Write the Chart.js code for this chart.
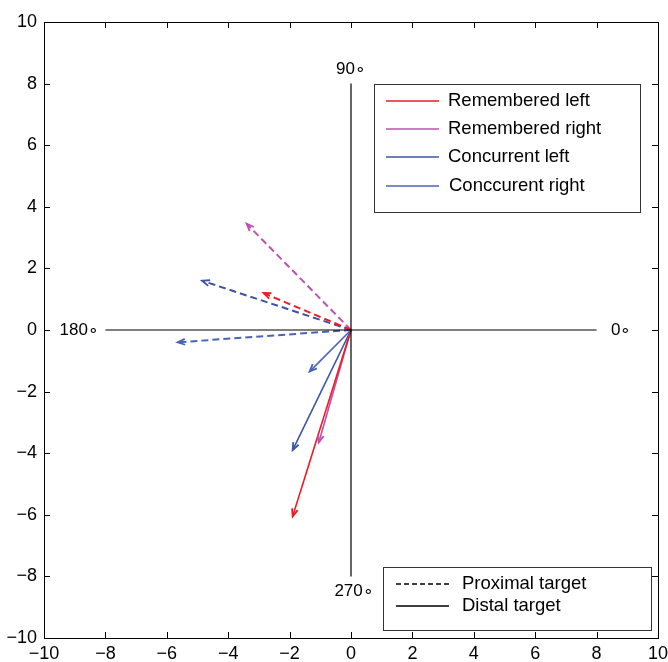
<!DOCTYPE html>
<html>
<head>
<meta charset="utf-8">
<script src="https://cdn.jsdelivr.net/npm/chart.js@4"></script>
<style>
  html, body { margin: 0; padding: 0; background: #fff; }
  #wrap { width: 668px; height: 662px; }
</style>
</head>
<body>
<div id="wrap"><canvas id="quiverChart" width="668" height="662"></canvas></div>
<script>
// series names and colours
const seriesNames = ['Remembered left', 'Remembered right', 'Concurrent left', 'Conccurent right'];
const seriesColors = ['#ed1c24', '#c050b0', '#3b54a4', '#4a64b4'];

// mean response vectors (tip coordinates, tail at origin)
const proximalX = [-2.85, -3.4, -4.85, -5.65];
const proximalY = [1.2, 3.45, 1.6, -0.4];
const distalX = [-1.9, -1.05, -1.9, -1.35];
const distalY = [-6.05, -3.65, -3.9, -1.35];

// reference cross and its angle labels
const crossSpan = [-8, 8];
const angleLabels = ['0∘', '90∘', '180∘', '270∘'];
const angleLabelX = [8.8, 0, -8.85, 0.1];
const angleLabelY = [0, 8.45, 0, -8.5];

const axisTicks = [-10, -8, -6, -4, -2, 0, 2, 4, 6, 8, 10];
const targetNames = ['Proximal target', 'Distal target'];

var datasets = [];
// cross lines
datasets.push({
    data: [{ x: crossSpan[0], y: 0 }, { x: crossSpan[1], y: 0 }],
    borderColor: '#000', borderWidth: 1.2, arrow: false,
});
datasets.push({
    data: [{ x: 0, y: crossSpan[0] }, { x: 0, y: crossSpan[1] }],
    borderColor: '#000', borderWidth: 1.2, arrow: false,
});
for (let i = 0; i < seriesNames.length; i++) {
    datasets.push({
        label: seriesNames[i] + ' proximal',
        data: [{ x: 0, y: 0 }, { x: proximalX[i], y: proximalY[i] }],
        borderColor: seriesColors[i], borderWidth: 2, borderDash: [7, 4], arrow: true,
    });
}
for (let i = 0; i < seriesNames.length; i++) {
    datasets.push({
        label: seriesNames[i] + ' distal',
        data: [{ x: 0, y: 0 }, { x: distalX[i], y: distalY[i] }],
        borderColor: seriesColors[i], borderWidth: 1.6, arrow: true,
    });
}
datasets.forEach((d) => {
    d.showLine = true;
    d.pointRadius = 0;
    d.fill = false;
});

function minusLabel(v) {
    return v < 0 ? '\u2212' + Math.abs(v) : String(v);
}

// box, inward ticks, arrow heads, angle labels and the two legends
const quiverExtras = {
    id: 'quiverExtras',
    afterDatasetsDraw(chart) {
        const ctx = chart.ctx;
        const xs = chart.scales.x;
        const ys = chart.scales.y;
        const a = chart.chartArea;

        // arrow heads
        chart.data.datasets.forEach((d) => {
            if (!d.arrow) return;
            const p0 = d.data[0], p1 = d.data[1];
            const x0 = xs.getPixelForValue(p0.x), y0 = ys.getPixelForValue(p0.y);
            const x1 = xs.getPixelForValue(p1.x), y1 = ys.getPixelForValue(p1.y);
            const ang = Math.atan2(y1 - y0, x1 - x0);
            const len = 8, spread = 0.38;
            ctx.save();
            ctx.strokeStyle = d.borderColor;
            ctx.lineWidth = 1.8;
            ctx.setLineDash([]);
            ctx.beginPath();
            ctx.moveTo(x1 - len * Math.cos(ang - spread), y1 - len * Math.sin(ang - spread));
            ctx.lineTo(x1, y1);
            ctx.lineTo(x1 - len * Math.cos(ang + spread), y1 - len * Math.sin(ang + spread));
            ctx.stroke();
            ctx.restore();
        });

        ctx.save();
        // angle labels
        ctx.fillStyle = '#000';
        ctx.font = '17px "Liberation Sans", Arial, sans-serif';
        ctx.textAlign = 'center';
        ctx.textBaseline = 'middle';
        for (let i = 0; i < angleLabels.length; i++) {
            ctx.fillText(angleLabels[i], xs.getPixelForValue(angleLabelX[i]), ys.getPixelForValue(angleLabelY[i]));
        }

        // frame + inward ticks
        ctx.strokeStyle = '#000';
        ctx.lineWidth = 1;
        ctx.strokeRect(a.left + 0.5, a.top + 0.5, a.right - a.left, a.bottom - a.top);
        ctx.beginPath();
        axisTicks.forEach((t) => {
            const px = Math.round(xs.getPixelForValue(t)) + 0.5;
            const py = Math.round(ys.getPixelForValue(t)) + 0.5;
            ctx.moveTo(px, a.bottom); ctx.lineTo(px, a.bottom - 6);
            ctx.moveTo(px, a.top); ctx.lineTo(px, a.top + 6);
            ctx.moveTo(a.left, py); ctx.lineTo(a.left + 6, py);
            ctx.moveTo(a.right, py); ctx.lineTo(a.right - 6, py);
        });
        ctx.stroke();

        // series legend
        ctx.font = '18.5px "Liberation Sans", Arial, sans-serif';
        ctx.textAlign = 'left';
        let lx = 374, ly = 84;
        ctx.fillStyle = '#fff';
        ctx.fillRect(lx, ly, 266, 128);
        ctx.strokeStyle = '#333';
        ctx.strokeRect(lx + 0.5, ly + 0.5, 266, 128);
        const rowY = [101, 129, 157, 186];
        for (let i = 0; i < seriesNames.length; i++) {
            ctx.strokeStyle = seriesColors[i];
            ctx.lineWidth = 1.5;
            ctx.beginPath();
            ctx.moveTo(386, rowY[i]); ctx.lineTo(439, rowY[i]);
            ctx.stroke();
            ctx.fillStyle = '#000';
            ctx.fillText(seriesNames[i], i === 3 ? 449 : 448, rowY[i]);
        }

        // target legend
        lx = 383; ly = 567;
        ctx.fillStyle = '#fff';
        ctx.fillRect(lx, ly, 268, 63);
        ctx.strokeStyle = '#333';
        ctx.lineWidth = 1;
        ctx.strokeRect(lx + 0.5, ly + 0.5, 268, 63);
        const tRowY = [584, 606];
        for (let i = 0; i < targetNames.length; i++) {
            ctx.strokeStyle = '#000';
            ctx.lineWidth = 1.5;
            ctx.setLineDash(i === 0 ? [5, 3] : []);
            ctx.beginPath();
            ctx.moveTo(396, tRowY[i]); ctx.lineTo(449, tRowY[i]);
            ctx.stroke();
            ctx.setLineDash([]);
            ctx.fillStyle = '#000';
            ctx.fillText(targetNames[i], 462, tRowY[i]);
        }
        ctx.restore();
    },
};

const tickFont = { family: '"Liberation Sans", Arial, sans-serif', size: 18 };

new Chart(document.getElementById('quiverChart'), {
    type: 'scatter',
    data: { datasets: datasets },
    plugins: [quiverExtras],
    options: {
        responsive: false,
        animation: false,
        events: [],
        layout: { padding: { left: 0, right: 10, top: 22, bottom: 0 } },
        plugins: { legend: { display: false }, tooltip: { enabled: false } },
        scales: {
            x: {
                type: 'linear', min: -10, max: 10,
                grid: { display: false, drawTicks: false },
                border: { display: false },
                ticks: { stepSize: 2, autoSkip: false, maxRotation: 0, padding: 5, color: '#000', font: tickFont, callback: minusLabel },
                afterFit(scale) {
                    scale.height = 24;
                    scale.paddingLeft = 0;
                    scale.paddingRight = 0;
                },
            },
            y: {
                type: 'linear', min: -10, max: 10,
                grid: { display: false, drawTicks: false },
                border: { display: false },
                ticks: { stepSize: 2, autoSkip: false, padding: 7, color: '#000', font: tickFont, callback: minusLabel },
                afterFit(scale) {
                    scale.width = 44;
                    scale.paddingTop = 0;
                    scale.paddingBottom = 0;
                },
            },
        },
    },
});
</script>
</body>
</html>
